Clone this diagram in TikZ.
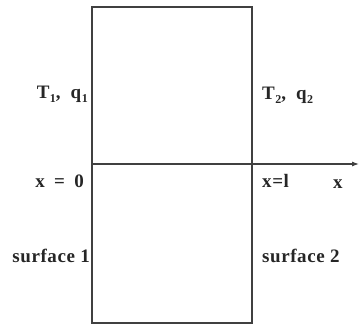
\documentclass[tikz,border=0pt]{standalone}
\usepackage{fontspec}
\setmainfont{Liberation Serif}
\newfontfamily\labfont[LetterSpace=3]{Liberation Serif}
\usetikzlibrary{arrows.meta}
\tikzset{
  lab/.style={font=\labfont\fontsize{19}{19}\selectfont\bfseries, inner sep=0pt, text=black!85},
  wall/.style={draw=black!75, line width=1.1pt},
  axis/.style={draw=black!75, line width=1.1pt, -{Latex[length=7pt,width=5pt]}},
}
\newcommand{\sbs}[1]{\hspace{0.5pt}\raisebox{-4.5pt}{\fontsize{12}{12}\selectfont #1}}
\begin{document}
\begin{tikzpicture}[x=1pt,y=-1pt]
\useasboundingbox (0,0) rectangle (359,325);
\coordinate (tl) at (92,7);
\coordinate (br) at (252,323);
\draw[wall] (tl) rectangle (br);
\coordinate (a0) at (92,164);
\coordinate (a1) at (359,164);
\draw[axis] (a0) -- (a1);
\node[lab, anchor=base east] (t1) at (88,98) {T\sbs{1},\hspace{10pt}q\sbs{1}};
\node[lab, anchor=base west] (t2) at (262,99) {T\sbs{2},\hspace{10pt}q\sbs{2}};
\node[lab, anchor=base east] (x0) at (84,187) {x\hspace{4pt} = \hspace{4pt}0};
\node[lab, anchor=base west] (xl) at (262,187) {x=l};
\node[lab, anchor=base west] (xx) at (333,188) {x};
\node[lab, anchor=base east] (s1) at (90,262) {surface 1};
\node[lab, anchor=base west] (s2) at (262,262) {surface 2};
\end{tikzpicture}
\end{document}
